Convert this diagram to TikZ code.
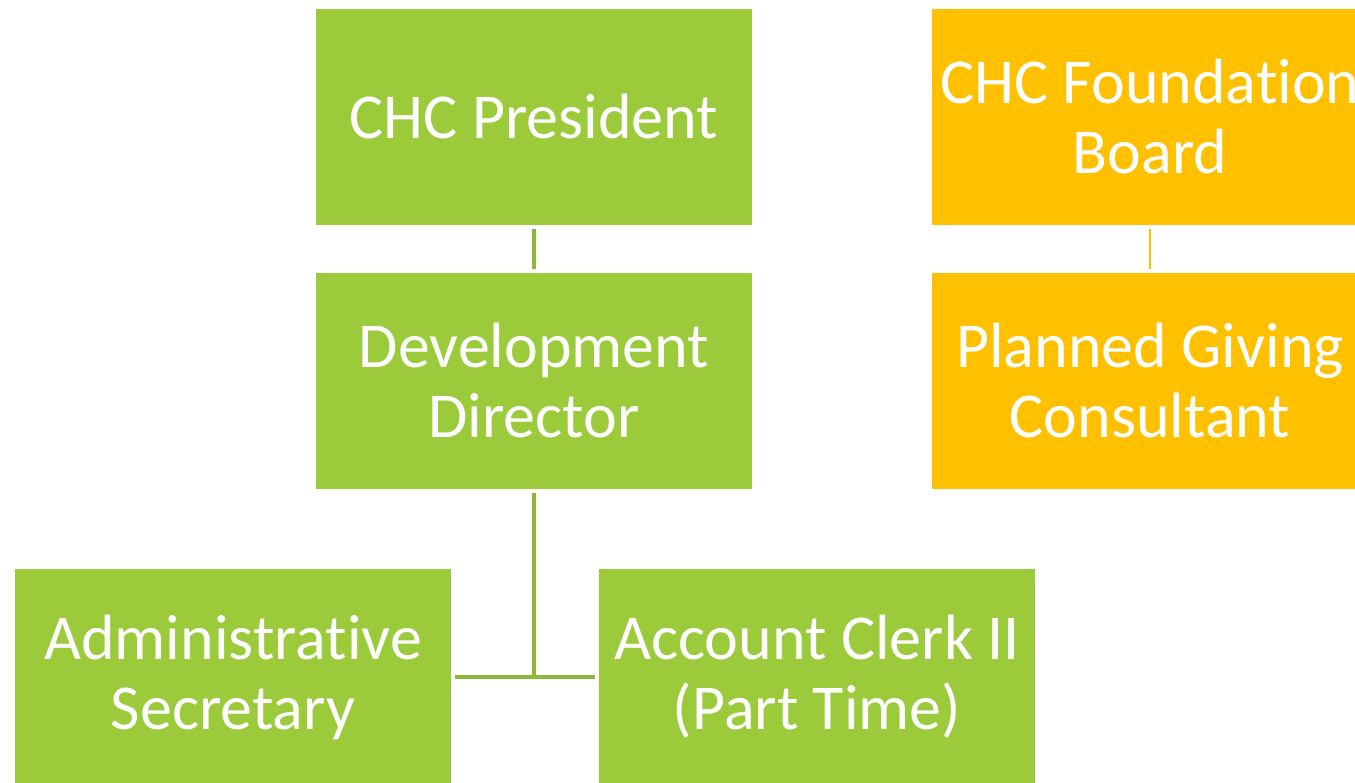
\documentclass[tikz,border=0pt]{standalone}
\usepackage{fontspec}
\setmainfont{Carlito}[Ligatures=NoCommon]
\definecolor{boxgreen}{RGB}{155,203,59}
\definecolor{linegreen}{RGB}{140,186,56}
\definecolor{boxorange}{RGB}{255,192,0}
\begin{document}
\begin{tikzpicture}[x=1pt,y=-1pt,
  orgbox/.style={minimum width=436pt,minimum height=216pt,inner sep=0pt,
    text=white,align=center,font=\fontsize{64}{70}\selectfont},
  greenbox/.style={orgbox,fill=boxgreen},
  orangebox/.style={orgbox,fill=boxorange},
  conn/.style={line width=3.5pt}]
\useasboundingbox (0,0) rectangle (1355,782);
\clip (0,0) rectangle (1355,782);
\fill[white] (0,0) rectangle (1355,782);
\node[greenbox] (pres) at (534,117) {CHC President};
\node[greenbox] (dir) at (534,381) {Development\\Director};
\node[greenbox] (adm) at (233,677) {Administrative\\Secretary};
\node[greenbox] (acc) at (817,677) {Account Clerk II\\(Part Time)};
\node[orangebox] (fnd) at (1150,117) {CHC Foundation\\Board};
\node[orangebox] (pgc) at (1150,381) {Planned Giving\\Consultant};
\coordinate (j) at (dir.south |- adm.east);
\draw[conn,linegreen,shorten <=4pt,shorten >=4pt] (pres.south) -- (dir.north);
\draw[conn,linegreen,shorten <=4pt] (dir.south) -- (j);
\draw[conn,linegreen,shorten <=4pt,shorten >=4pt] (adm.east) -- (acc.west);
\draw[line width=2.5pt,boxorange,shorten <=4pt,shorten >=4pt] (fnd.south) -- (pgc.north);
\end{tikzpicture}
\end{document}
